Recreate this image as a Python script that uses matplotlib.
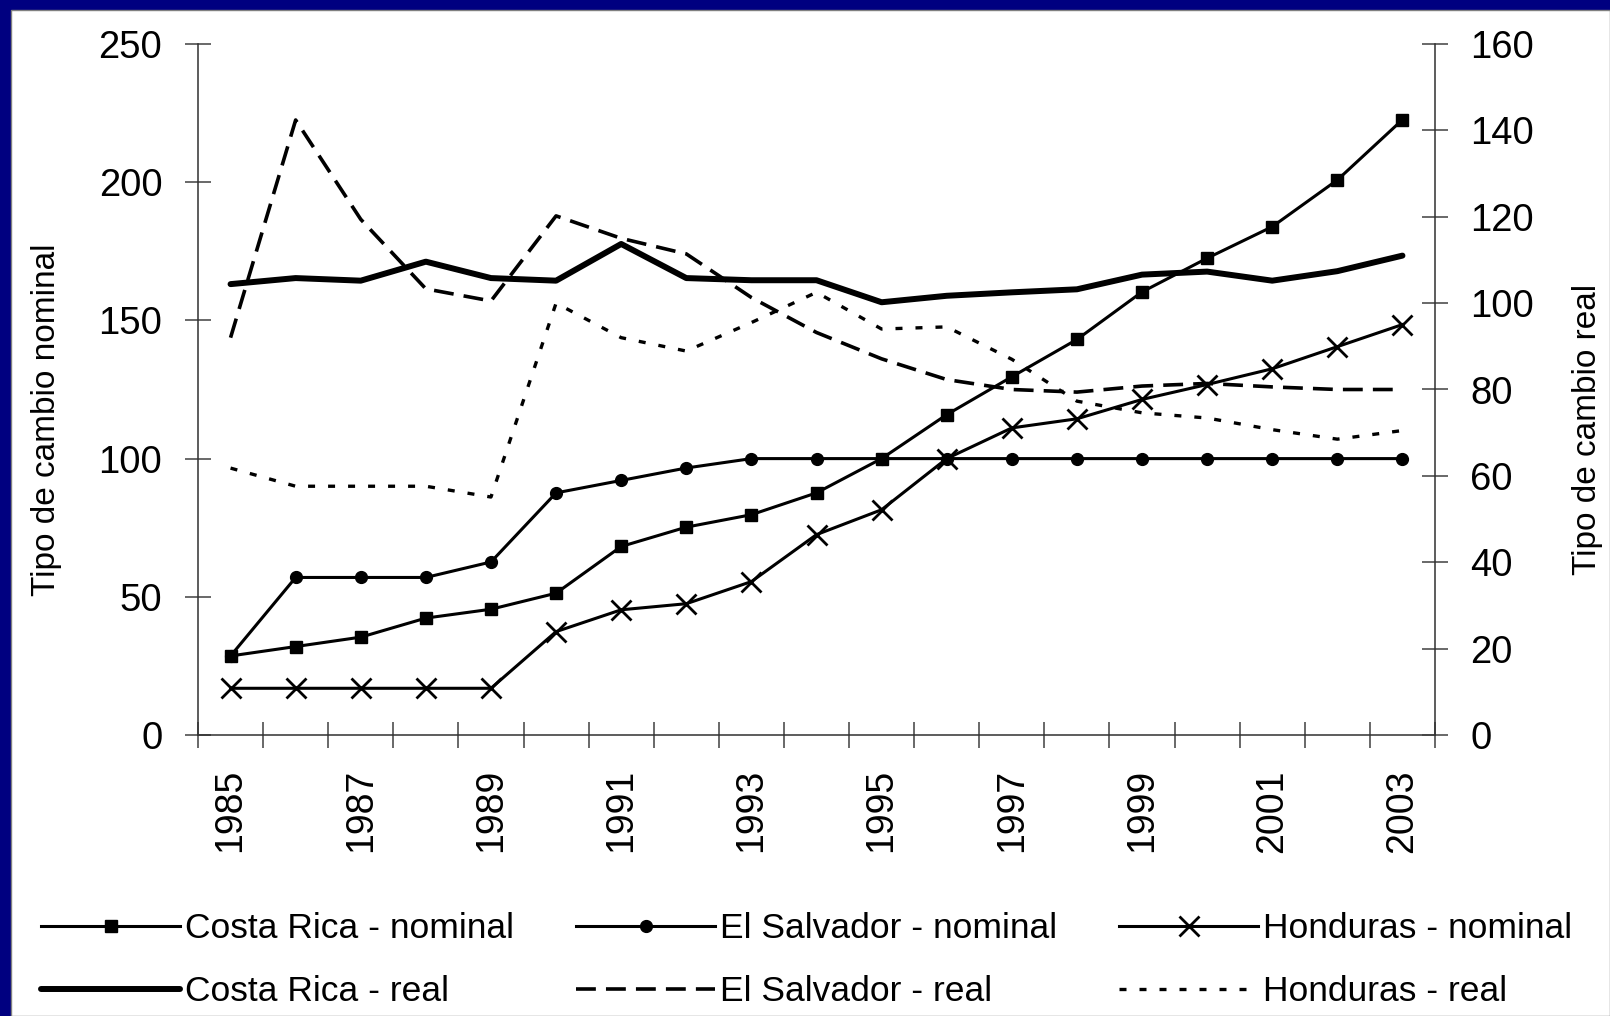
import matplotlib
matplotlib.use('Agg')
import numpy as np
import matplotlib.pyplot as plt
from matplotlib import font_manager
from matplotlib.patches import Rectangle
from matplotlib.font_manager import FontProperties
from matplotlib.ticker import FixedLocator, NullFormatter

# ---------------- data ----------------
years = list(range(1985, 2004))
year_labels = [str(y) for y in years[::2]]

cr_nominal = [28.6, 32.0, 35.4, 42.3, 45.5, 51.3, 68.2, 75.2, 79.7, 87.6,
              100.0, 115.9, 129.6, 143.1, 160.3, 172.5, 183.9, 200.8, 222.6]
es_nominal = [28.6, 57.0, 57.0, 57.0, 62.6, 87.6, 92.1, 96.6, 100.0, 100.0,
              100.0, 100.0, 100.0, 100.0, 100.0, 100.0, 100.0, 100.0, 100.0]
hn_nominal = [16.9, 16.9, 16.9, 16.9, 16.9, 37.4, 45.3, 47.5, 55.5, 72.5,
              81.5, 100.0, 111.1, 114.4, 121.4, 126.8, 132.5, 140.5, 148.5]

cr_real = [104.4, 105.8, 105.2, 109.6, 105.8, 105.2, 113.7, 105.8, 105.3, 105.3,
           100.2, 101.7, 102.5, 103.2, 106.6, 107.3, 105.2, 107.4, 111.0]
es_real = [92.0, 142.4, 119.4, 103.3, 100.5, 120.2, 115.0, 111.4, 101.3, 93.2,
           87.1, 82.3, 80.0, 79.4, 80.8, 81.4, 80.6, 80.0, 80.0]
hn_real = [61.8, 57.6, 57.6, 57.6, 55.1, 100.0, 92.0, 88.9, 95.5, 102.5,
           94.0, 94.5, 87.0, 77.3, 74.6, 73.4, 70.7, 68.5, 70.5]

left_ticks = [0, 50, 100, 150, 200, 250]
right_ticks = [0, 20, 40, 60, 80, 100, 120, 140, 160]

labels_nom = ['Costa Rica - nominal', 'El Salvador - nominal', 'Honduras - nominal']
labels_real = ['Costa Rica - real', 'El Salvador - real', 'Honduras - real']

# ---------------- fonts ----------------
names = {f.name for f in font_manager.fontManager.ttflist}
base_font = 'Liberation Sans' if 'Liberation Sans' in names else 'DejaVu Sans'
has_narrow = 'Liberation Sans Narrow' in names
legend_font = 'Liberation Sans Narrow' if has_narrow else base_font
legend_size = 30.5 if has_narrow else 25.5
plt.rcParams['font.family'] = [base_font, 'DejaVu Sans']

W, H = 1610, 1016
fig = plt.figure(figsize=(W / 100, H / 100), dpi=100, facecolor='#000080')
fig.patches.append(Rectangle((11 / W, 0), 1 - 11 / W, 1 - 10 / H,
                             transform=fig.transFigure, facecolor='white',
                             edgecolor='#808080', lw=1, zorder=-1))

ax = fig.add_axes([198 / W, 1 - 735 / H, (1435 - 198) / W, (735 - 44) / H])
ax.set_facecolor('none')
ax2 = ax.twinx()

x = np.arange(len(years))

h1, = ax.plot(x, cr_nominal, color='black', lw=2.2, marker='s', ms=9,
              label=labels_nom[0], zorder=3)
h2, = ax.plot(x, es_nominal, color='black', lw=2.2, marker='o', ms=8.5,
              label=labels_nom[1], zorder=3)
h3, = ax.plot(x, hn_nominal, color='black', lw=2.2, marker='x', ms=15, mew=2,
              label=labels_nom[2], zorder=3)
h4, = ax2.plot(x, cr_real, color='black', lw=4.3, solid_capstyle='round',
               solid_joinstyle='round', label=labels_real[0])
h5, = ax2.plot(x, es_real, color='black', lw=2.6, dashes=(5.5, 2.8),
               label=labels_real[1])
h6, = ax2.plot(x, hn_real, color='black', lw=2.4, dashes=(2.1, 3.9),
               label=labels_real[2])

ax.set_xlim(-0.5, len(years) - 0.5)
ax.set_ylim(0, 250)
ax2.set_ylim(0, 160)
ax.set_yticks(left_ticks)
ax2.set_yticks(right_ticks)

ax.xaxis.set_major_locator(FixedLocator(np.arange(-0.5, len(years), 1.0)))
ax.xaxis.set_major_formatter(NullFormatter())
ax.set_xticks(x[::2], minor=True)
ax.set_xticklabels(year_labels, minor=True, rotation=90, fontsize=27)

tick_col = '#404040'
ax.tick_params(axis='x', which='major', direction='inout', length=19.4,
               width=1.1, color=tick_col)
ax.tick_params(axis='x', which='minor', length=0, pad=24.5, labelsize=27)
ax.tick_params(axis='y', direction='inout', length=19.4, width=1.1,
               color=tick_col, pad=16, labelsize=27.5)
ax2.tick_params(axis='y', direction='inout', length=19.4, width=1.1,
                color=tick_col, pad=15.5, labelsize=27.5)

for s in ['top', 'right']:
    ax.spines[s].set_visible(False)
for s in ['top', 'left', 'bottom']:
    ax2.spines[s].set_visible(False)
for a in (ax, ax2):
    for s in a.spines.values():
        s.set_color('#303030')
        s.set_linewidth(1.1)

fig.text(47 / W, 1 - 420 / H, 'Tipo de cambio nominal', rotation=90,
         ha='center', va='center', fontsize=24)
fig.text(1587 / W, 1 - 429 / H, 'Tipo de cambio real', rotation=90,
         ha='center', va='center', fontsize=24)

fs_px = legend_size * 100 / 72
handles = [h1, h4, h2, h5, h3, h6]
fig.legend(handles, [h.get_label() for h in handles], ncol=3,
           loc='upper left', bbox_to_anchor=(41 / W, 1 - 912 / H),
           frameon=False, prop=FontProperties(family=legend_font, size=legend_size),
           handlelength=139 / fs_px, handletextpad=5 / fs_px,
           columnspacing=62 / fs_px, borderpad=0, borderaxespad=0,
           labelspacing=0.85, numpoints=1)

fig.savefig('out.png', dpi=100, facecolor=fig.get_facecolor())
